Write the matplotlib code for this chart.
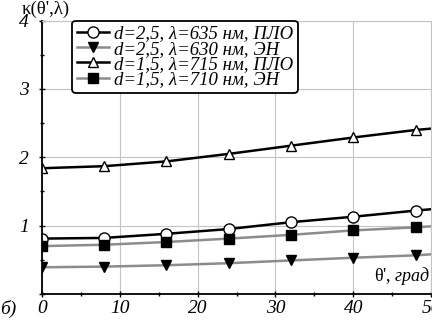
import numpy as np
import matplotlib.pyplot as plt

plt.rcParams['font.family'] = ['Liberation Serif', 'DejaVu Serif']
plt.rcParams['mathtext.fontset'] = 'custom'
plt.rcParams['mathtext.rm'] = 'Liberation Serif'
plt.rcParams['mathtext.it'] = 'Liberation Serif:italic'

# угол θ', град (маркеры через 8 град, линия до 50)
theta = [0, 8, 16, 24, 32, 40, 48, 50]
k_635_plo = [0.81, 0.82, 0.88, 0.95, 1.05, 1.13, 1.22, 1.24]
k_630_en = [0.39, 0.40, 0.42, 0.45, 0.49, 0.53, 0.565, 0.58]
k_715_plo = [1.84, 1.87, 1.94, 2.05, 2.17, 2.29, 2.40, 2.42]
k_710_en = [0.70, 0.72, 0.76, 0.81, 0.865, 0.93, 0.975, 0.99]

labels = ['d=2,5, λ=635 нм, ПЛО', 'd=2,5, λ=630 нм, ЭН',
          'd=1,5, λ=715 нм, ПЛО', 'd=1,5, λ=710 нм, ЭН']
xticks = [0, 10, 20, 30, 40, 50]
yticks = [0, 1, 2, 3, 4]
yticklabels = ['', '1', '2', '3', '4']

fig = plt.figure(figsize=(4.32, 3.23), dpi=100)
ax = fig.add_axes([0.097, 0.09, 0.901, 0.846])

grey = '#8c8c8c'
mk = slice(0, 7)
ax.plot(theta, k_635_plo, '-', color='black', lw=1.8, marker='o', ms=8,
        mfc='white', mec='black', mew=1.0, markevery=mk, label=labels[0])
ax.plot(theta, k_630_en, '-', color=grey, lw=1.8, marker='v', ms=7.5,
        mfc='black', mec='black', markevery=mk, label=labels[1])
ax.plot(theta, k_715_plo, '-', color='black', lw=1.8, marker='^', ms=7,
        mfc='white', mec='black', mew=1.0, markevery=mk, label=labels[2])
ax.plot(theta, k_710_en, '-', color=grey, lw=1.8, marker='s', ms=6.5,
        mfc='black', mec='black', markevery=mk, label=labels[3])

ax.set_xlim(0, 50)
ax.set_ylim(0, 4)
ax.set_xticks(xticks)
ax.set_xticklabels([str(t) for t in xticks], fontsize=14, style='italic')
ax.set_xticks(np.arange(5, 50, 10), minor=True)
ax.set_yticks(yticks)
ax.set_yticklabels(yticklabels, fontsize=14, style='italic')
ax.set_yticks(np.arange(0.5, 4, 1), minor=True)
ax.tick_params(which='both', direction='inout', length=5, width=1, pad=2)
ax.tick_params(axis='y', which='major', pad=7)
ax.tick_params(which='minor', length=3)

ax.grid(True, which='major', color='#c4c4c4', lw=0.8)
for s in ['top', 'right']:
    ax.spines[s].set_color('#c4c4c4')
    ax.spines[s].set_linewidth(0.8)
for s in ['left', 'bottom']:
    ax.spines[s].set_linewidth(1.3)

fig.text(0.05, 0.998, "κ(θ',λ)", fontsize=13.5, ha='left', va='top')
ax.text(0.997, 0.025, "θ', $\\mathit{град}$", fontsize=13, ha='right',
        va='bottom', transform=ax.transAxes)
fig.text(0.0, 0.015, 'б)', fontsize=14, style='italic', ha='left', va='bottom')

leg = ax.legend(loc='upper left', bbox_to_anchor=(0.077, 1.0), borderaxespad=0,
                prop={'style': 'italic', 'size': 13.5}, handlelength=1.75,
                handletextpad=0.25, labelspacing=-0.1, borderpad=0.25,
                fancybox=True, framealpha=1, edgecolor='black')
leg.get_frame().set_linewidth(1.3)

fig.savefig('out.png', dpi=100)
